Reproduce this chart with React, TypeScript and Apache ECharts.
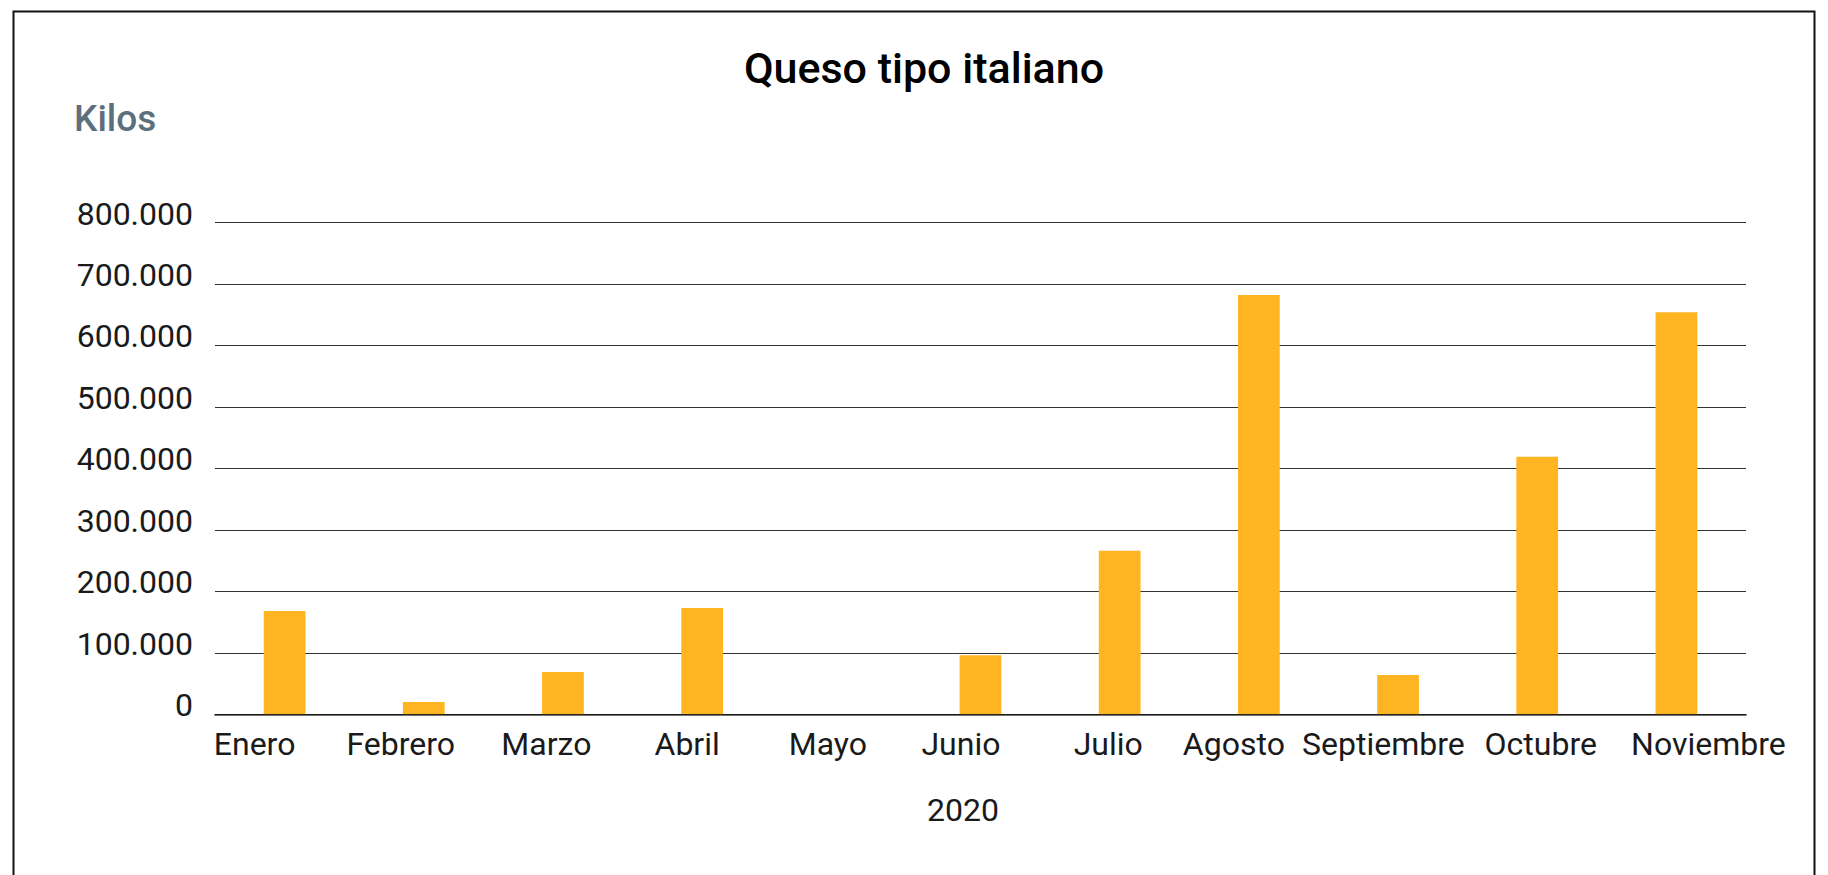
import React, { useEffect, useRef } from "react";
import * as echarts from "echarts";

const categories = [
  "Enero",
  "Febrero",
  "Marzo",
  "Abril",
  "Mayo",
  "Junio",
  "Julio",
  "Agosto",
  "Septiembre",
  "Octubre",
  "Noviembre",
];
const values = [168000, 20000, 69000, 173000, 0, 96000, 266000, 682000, 64000, 419000, 654000];
const yMin = 0;
const yMax = 800000;
const yStep = 100000;
const titleText = "Queso tipo italiano";
const yAxisTitle = "Kilos";
const xAxisTitle = "2020";

// label horizontal offsets (style only)
const labelShift = [-30, -23, -16.6, -15, -13.5, -19.6, -11.5, -25, -14.6, 3.5, 32];

const FONT = "Roboto, 'Noto Sans', sans-serif";

function fmt(v: number): string {
  return String(v).replace(/\B(?=(\d{3})+(?!\d))/g, ".");
}

export default function App() {
  const ref = useRef<HTMLDivElement>(null);
  useEffect(() => {
    if (!ref.current) return;
    const chart = echarts.init(ref.current, null, { renderer: "svg" });
    const rich: Record<string, any> = {};
    categories.forEach((_c, i) => {
      const s = labelShift[i];
      rich["c" + i] = {
        fontFamily: FONT,
        fontSize: 32,
        color: "#1a1a1a",
        lineHeight: 32,
        padding: [0, s < 0 ? -2 * s : 0, 0, s > 0 ? 2 * s : 0],
      };
    });
    chart.setOption({
      animation: false,
      backgroundColor: "#ffffff",
      grid: { left: 215, right: 82, top: 222.5, bottom: 160.7, containLabel: false },
      graphic: [
        {
          type: "rect",
          z: -10,
          shape: { x: 13.5, y: 11.5, width: 1801, height: 1000 },
          style: { fill: "none", stroke: "#111111", lineWidth: 2 },
        },
        {
          type: "text",
          x: 924,
          y: 68,
          style: {
            text: titleText,
            font: `500 43px ${FONT}`,
            fill: "#000000",
            align: "center",
            verticalAlign: "middle",
          },
        },
        {
          type: "text",
          x: 74,
          y: 118,
          style: {
            text: yAxisTitle,
            font: `500 37px ${FONT}`,
            fill: "#5c6f7c",
            align: "left",
            verticalAlign: "middle",
          },
        },
        {
          type: "text",
          x: 963,
          y: 809.5,
          style: {
            text: xAxisTitle,
            font: `400 32px ${FONT}`,
            fill: "#1a1a1a",
            align: "center",
            verticalAlign: "middle",
          },
        },
      ],
      xAxis: {
        type: "category",
        data: categories,
        z: 5,
        axisTick: { show: false },
        axisLine: { show: true, lineStyle: { color: "rgba(0,0,0,0.55)", width: 2 } },
        axisLabel: {
          interval: 0,
          margin: 14,
          formatter: (v: string, i: number) => `{c${i}|${v}}`,
          rich,
        },
      },
      yAxis: {
        type: "value",
        min: yMin,
        max: yMax,
        interval: yStep,
        axisLine: { show: false },
        axisTick: { show: false },
        splitLine: { show: true, lineStyle: { color: "#333333", width: 1 } },
        axisLabel: {
          margin: 22,
          fontFamily: FONT,
          fontSize: 32,
          color: "#1a1a1a",
          verticalAlign: "bottom",
          lineHeight: 18,
          formatter: (v: number) => fmt(v),
        },
      },
      series: [
        {
          type: "bar",
          data: values,
          barWidth: "30%",
          itemStyle: { color: "#ffb522" },
        },
      ],
    });
    return () => chart.dispose();
  }, []);
  return (
    <div
      ref={ref}
      style={{ position: "absolute", left: 0, top: 0, width: 1828, height: 875 }}
    />
  );
}
